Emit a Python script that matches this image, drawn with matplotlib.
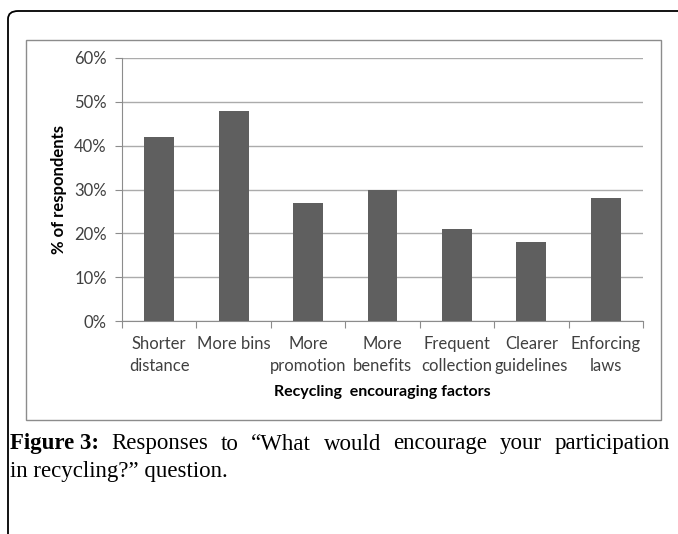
import matplotlib
matplotlib.use("Agg")
import matplotlib.pyplot as plt
from matplotlib.patches import FancyBboxPatch, Rectangle
from matplotlib.ticker import PercentFormatter

# Responses (% of respondents)
factors = ["Shorter\ndistance", "More bins", "More\npromotion", "More\nbenefits",
           "Frequent\ncollection", "Clearer\nguidelines", "Enforcing\nlaws"]
percent = [42, 48, 27, 30, 21, 18, 28]
yticks = [0, 10, 20, 30, 40, 50, 60]

caption_line1 = ["Figure 3:", "Responses", "to", "\u201cWhat", "would",
                 "encourage", "your", "participation"]
caption_line2 = "in recycling?\u201d question."

SANS = "Lato"
SERIF = "Liberation Serif"
W, H = 678, 534

fig = plt.figure(figsize=(6.78, 5.34), dpi=100)

# outer frame with rounded corner, running off the right and bottom edges
frame = FancyBboxPatch((8 / W, -0.2), 1.2, 1 - 11 / H + 0.2,
                       boxstyle="round,pad=0,rounding_size=0.015",
                       transform=fig.transFigure, fill=False,
                       edgecolor="black", linewidth=1.3)
fig.patches.append(frame)

# chart box
box = Rectangle((26 / W, 1 - 420 / H), (661 - 26) / W, (420 - 40) / H,
                transform=fig.transFigure, fill=False,
                edgecolor="#8c8c8c", linewidth=1.0)
fig.patches.append(box)

ax = fig.add_axes([122 / W, 1 - 321 / H, (643 - 122) / W, (321 - 58) / H])
ax.bar(range(len(factors)), percent, width=0.4, color="#5f5f5f", zorder=3)

ax.set_ylim(0, 60)
ax.set_xlim(-0.5, len(factors) - 0.5)
ax.set_yticks(yticks)
ax.yaxis.set_major_formatter(PercentFormatter(decimals=0))
ax.set_xticks([i - 0.5 for i in range(len(factors) + 1)])
ax.set_xticklabels([])
ax.set_xticks(range(len(factors)), minor=True)
ax.set_xticklabels(factors, minor=True, family=SANS, linespacing=1.45)
ax.tick_params(axis="x", which="major", length=5, color="#8c8c8c")
ax.tick_params(axis="x", which="minor", length=0, pad=11, labelsize=12,
               labelcolor="#404040")
ax.tick_params(axis="y", length=5, color="#8c8c8c", labelsize=12,
               labelcolor="#404040", pad=6)
for lab in ax.get_yticklabels():
    lab.set_family(SANS)
ax.grid(axis="y", color="#ababab", linewidth=1.0, zorder=0)

for side in ["top", "right"]:
    ax.spines[side].set_visible(False)
for side in ["left", "bottom"]:
    ax.spines[side].set_color("#8c8c8c")

ax.set_ylabel("% of respondents", fontsize=12, fontweight="bold", family=SANS,
              labelpad=5)
ax.set_xlabel("Recycling  encouraging factors", fontsize=11.5, fontweight="bold",
              family=SANS, labelpad=8)

# caption, first line justified between x=10 and x=670
renderer = fig.canvas.get_renderer()
y1 = 1 - 444 / H
words = []
for i, w in enumerate(caption_line1):
    t = fig.text(0, y1, w, fontsize=16.5, family=SERIF, va="center",
                 fontweight="bold" if i == 0 else "normal")
    words.append(t)
widths = [t.get_window_extent(renderer).width for t in words]
gap = (670 - 10 - sum(widths)) / (len(words) - 1)
x = 10
for t, wd in zip(words, widths):
    t.set_x(x / W)
    x += wd + gap
fig.text(10 / W, 1 - 472 / H, caption_line2, fontsize=16.5, family=SERIF,
         va="center")

fig.savefig("out.png", dpi=100)
